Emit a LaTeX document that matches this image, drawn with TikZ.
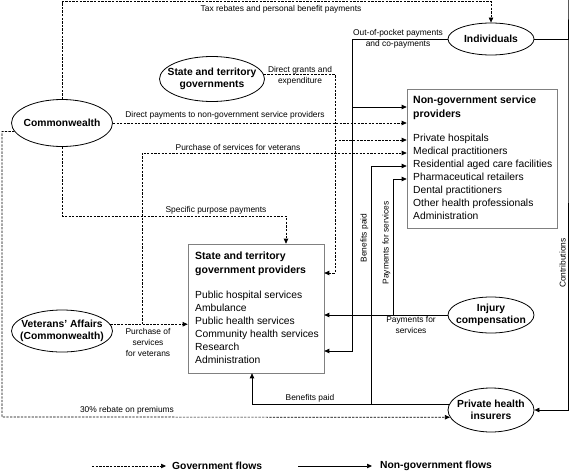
\documentclass[tikz,border=0pt]{standalone}
\usepackage{fontspec}
\setmainfont{Liberation Sans}
\usetikzlibrary{arrows.meta,calc,shapes.geometric}
\begin{document}
\begin{tikzpicture}[x=1pt,y=-1pt,
  tip/.style={-{Triangle[length=5pt,width=4.4pt]}},
  govline/.style={draw, line width=0.7pt, dash pattern=on 2.3pt off 1.3pt},
  gov/.style={govline, tip},
  ngovline/.style={draw, line width=0.7pt},
  ngov/.style={ngovline, tip},
  ell/.style={ellipse, draw, line width=0.8pt, inner sep=0pt},
  elltext/.style={font=\fontsize{10.3}{12}\selectfont\bfseries, align=center, inner sep=0pt},
  box/.style={rectangle, draw=black!50, line width=0.6pt, inner sep=0pt},
  boxtitle/.style={font=\fontsize{10.5}{13.5}\selectfont\bfseries, align=left, inner sep=0pt, anchor=north west},
  boxitems/.style={font=\fontsize{10.3}{13}\selectfont, align=left, inner sep=0pt, anchor=north west},
  lbl/.style={font=\fontsize{8.4}{11}\selectfont, align=center, inner sep=0.5pt},
  legtext/.style={font=\fontsize{10.3}{12}\selectfont\bfseries, inner sep=0pt, anchor=west}
]
\useasboundingbox (0,0) rectangle (570,474);

% ellipses
\node[ell, minimum width=101pt, minimum height=47pt] (cw) at (62,123) {};
\node[elltext] (cwt) at (cw) {Commonwealth};
\node[ell, minimum width=105pt, minimum height=45pt] (stg) at (212,79) {};
\node[elltext] (stgt) at (stg) {State and territory\\governments};
\node[ell, minimum width=86pt, minimum height=32pt] (ind) at (491,39) {};
\node[elltext] (indt) at (ind) {Individuals};
\node[ell, minimum width=101pt, minimum height=42pt] (va) at (62,331) {};
\node[elltext] (vat) at (va) {Veterans' Affairs\\(Commonwealth)};
\node[ell, minimum width=86pt, minimum height=36pt] (inj) at (491,315) {};
\node[elltext] (injt) at (inj) {Injury\\compensation};
\node[ell, minimum width=86pt, minimum height=44pt] (phi) at (491,410) {};
\node[elltext] (phit) at (phi) {Private health\\insurers};

% boxes
\node[box, minimum width=150pt, minimum height=139pt] (ngb) at (482,158.5) {};
\node[boxtitle] (ngbt) at (413,95.8) {Non-government service\\providers};
\node[boxitems] (ngbi) at (413,133.8) {Private hospitals\\Medical practitioners\\Residential aged care facilities\\Pharmaceutical retailers\\Dental practitioners\\Other health professionals\\Administration};
\node[box, minimum width=136pt, minimum height=129pt] (spb) at (256,308.5) {};
\node[boxtitle] (spbt) at (195,251.8) {State and territory\\government providers};
\node[boxitems] (spbi) at (195,291.3) {Public hospital services\\Ambulance\\Public health services\\Community health services\\Research\\Administration};

% helper coordinates
\coordinate (taxy) at (0,1.5);
\coordinate (rx) at (568,0);
\coordinate (oopx) at (352,0);
\coordinate (oopb) at (352,351);
\coordinate (oopn) at (352,107);
\coordinate (dgx) at (335,0);
\coordinate (dgb) at (335,273);
\coordinate (dgn) at (335,140);
\coordinate (vax) at (142,0);
\coordinate (pvy) at (0,153);
\coordinate (spj) at (286,216);
\coordinate (rbj) at (2,417);
\coordinate (bpx) at (252,0);
\coordinate (bvx) at (371,0);
\coordinate (bvt) at (371,166);
\coordinate (pfx) at (393,0);
\coordinate (pft) at (393,179);

% government flows
\draw[gov] (cw.north) |- (ind.north |- taxy) -- (ind.north);
\draw[gov] (stg.5) -| (dgb) -- (dgb -| spb.east);
\draw[gov] (dgn) -- (dgn -| ngb.west);
\draw[gov] (cw.east) -- (cw.east -| ngb.west);
\draw[gov] (va.8) -- (va.8 -| spb.west);
\draw[gov] (va.8 -| vax) |- (ngb.west |- pvy);
\draw[gov] (cw.south) |- (spj) -- (spj |- spb.north);
\draw[gov] (cw.190) -| (rbj) -- (phi.190);

% non-government flows
\draw[ngov] (ind.east) -| (rx) |- (phi.east);
\draw[ngov] (ind.west) -| (oopb) -- (oopb -| spb.east);
\draw[ngov] (oopn) -- (oopn -| ngb.west);
\draw[ngov] (phi.173) -| (bpx |- spb.south);
\draw[ngov] (phi.173 -| bvx) -- (bvt) -- (bvt -| ngb.west);
\draw[ngov] (inj.west) -- (inj.west -| spb.east);
\draw[ngov] (inj.west -| pfx) -- (pft) -- (pft -| ngb.west);

% labels
\node[lbl] (l1) at (281,9) {Tax rebates and personal benefit payments};
\node[lbl] (l2) at (398,38.5) {Out-of-pocket payments\\and co-payments};
\node[lbl] (l3) at (300,75.5) {Direct grants and\\expenditure};
\node[lbl] (l4) at (225,115.5) {Direct payments to non-government service providers};
\node[lbl] (l5) at (238,147.5) {Purchase of services for veterans};
\node[lbl] (l6) at (216,210) {Specific purpose payments};
\node[lbl] (l7) at (148,342.5) {Purchase of\\services\\for veterans};
\node[lbl] (l8) at (127,410.5) {30\% rebate on premiums};
\node[lbl] (l9) at (310,398) {Benefits paid};
\node[lbl, rotate=90] (l10) at (364.5,238) {Benefits paid};
\node[lbl, rotate=90] (l11) at (386.5,243) {Payments for services};
\node[lbl] (l12) at (411,324.5) {Payments for\\services};
\node[lbl, rotate=90] (l13) at (562.5,263) {Contributions};

% legend
\coordinate (lga) at (92,466);
\node[legtext] (lg1) at (172,466) {Government flows};
\draw[gov] (lga) -- ([xshift=-6pt]lg1.west);
\coordinate (lgb) at (298,466);
\node[legtext] (lg2) at (380,466) {Non-government flows};
\draw[ngov] (lgb) -- ([xshift=-8pt]lg2.west);
\end{tikzpicture}
\end{document}
